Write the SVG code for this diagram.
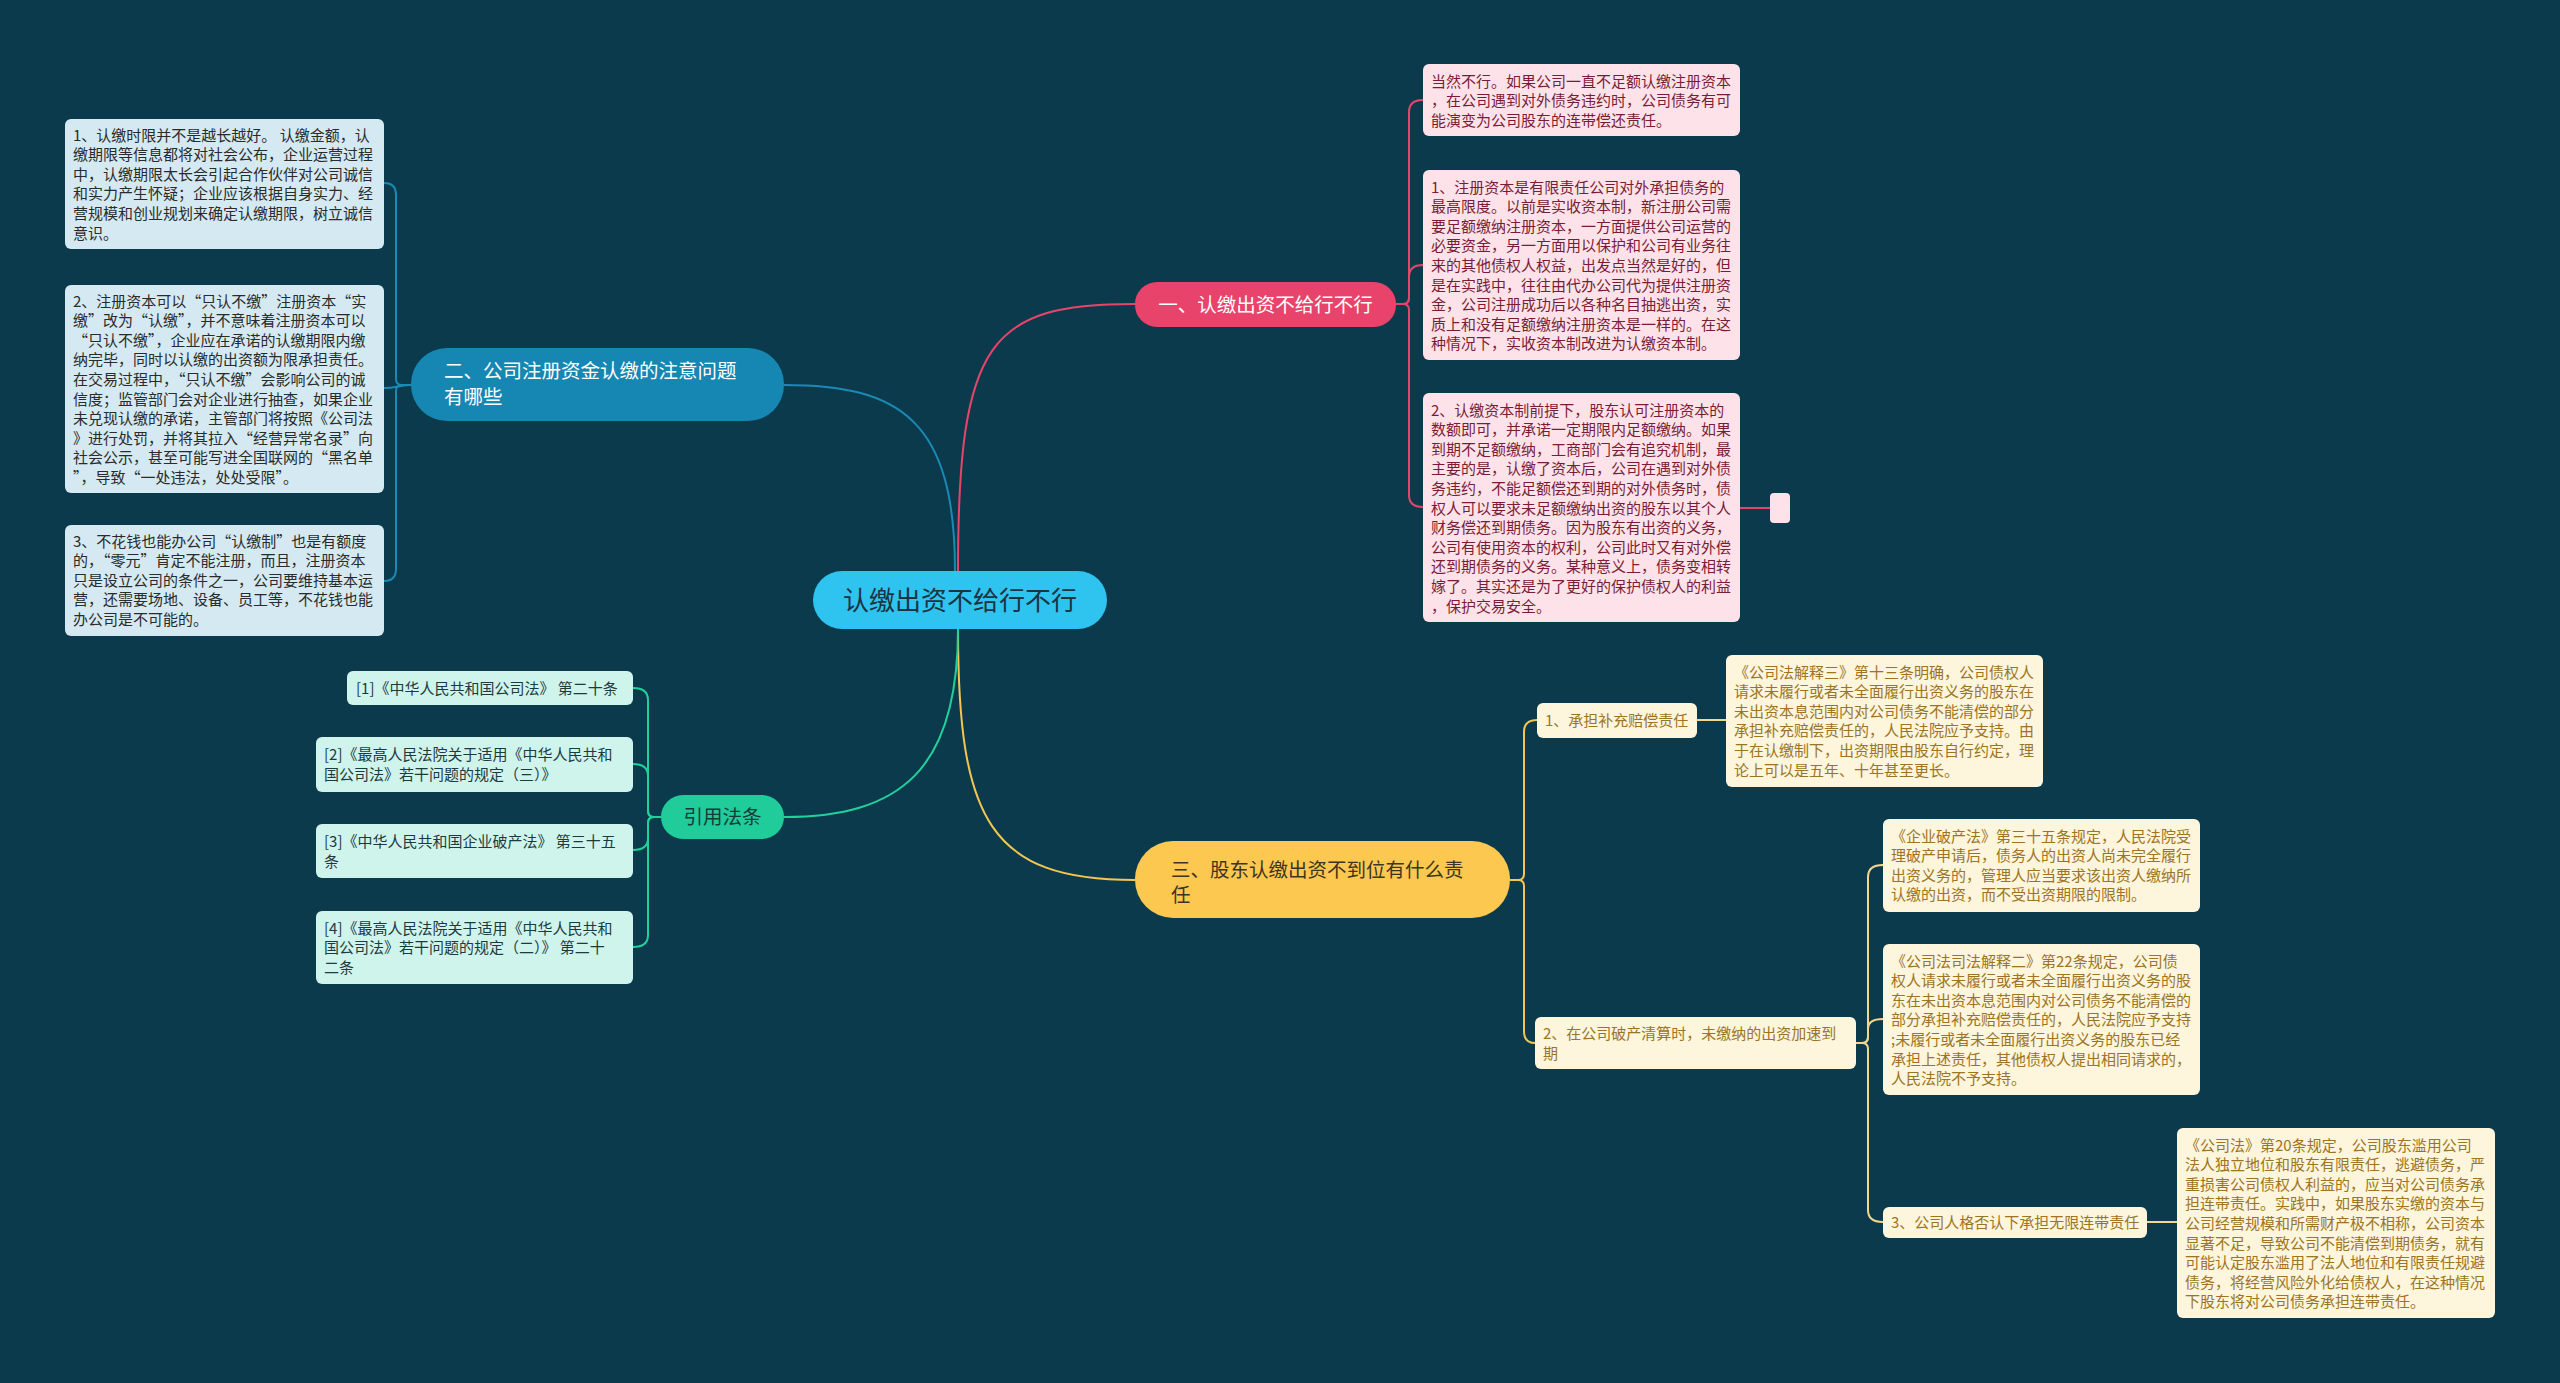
<svg xmlns="http://www.w3.org/2000/svg" width="2560" height="1383" viewBox="0 0 2560 1383">
<style>
text{font-family:"Noto Sans CJK SC","Noto Sans",sans-serif;}
.t15{font-size:15px;}
.lb{fill:#d4e9f1;}
.lbt{fill:#2b2b2b;}
.pk{fill:#fde3e9;}
.pkt{fill:#7a1c37;}
.yl{fill:#fdf5dc;}
.ylt{fill:#9c7423;}
.ct{fill:#cff4ec;}
.ctt{fill:#1d3a40;}
.c{fill:none;stroke-width:2;}
.cb{stroke:#1a8ab5;}
.cp{stroke:#e6456b;}
.cy{stroke:#f3c652;}
.cy2{stroke:#f1d78e;}
.cg{stroke:#22d09b;}
</style>
<rect width="2560" height="1383" fill="#0c3a4d"/>
<g id="connectors">
<path class="c cb" d="M955,571 C955,420 900,385 784,385"/>
<path class="c cp" d="M958,571 C958,340 990,304 1135,304"/>
<path class="c cy" d="M958,629 C958,820 990,880 1135,880"/>
<path class="c cg" d="M958,629 C958,770 900,817 784,817"/>
<path class="c cb" d="M411,385 H402 Q396,385 396,379 V195 Q396,183 384,183"/>
<path class="c cb" d="M411,385 C400,385 396,388 384,388"/>
<path class="c cb" d="M411,385 H402 Q396,385 396,391 V569 Q396,581 384,581"/>
<path class="c cp" d="M1396,304 H1403 Q1409,304 1409,298 V112 Q1409,100 1423,100"/>
<path class="c cp" d="M1396,304 H1403 Q1409,304 1409,298 V277 Q1409,265 1423,265"/>
<path class="c cp" d="M1396,304 H1403 Q1409,304 1409,310 V495 Q1409,507 1423,507"/>
<path class="c cp" d="M1740,508 H1770"/>
<path class="c cy" d="M1510,880 H1518 Q1524,880 1524,874 V732 Q1524,720 1537,720"/>
<path class="c cy" d="M1510,880 H1518 Q1524,880 1524,886 V1031 Q1524,1043 1535,1043"/>
<path class="c cy2" d="M1697,720 H1726"/>
<path class="c cy2" d="M1856,1043 H1862 Q1868,1043 1868,1037 V877 Q1868,865 1883,865"/>
<path class="c cy2" d="M1856,1043 H1862 Q1868,1043 1868,1037 V1029 Q1868,1019 1883,1019"/>
<path class="c cy2" d="M1856,1043 H1862 Q1868,1043 1868,1049 V1210 Q1868,1222 1883,1222"/>
<path class="c cy2" d="M2147,1222 H2177"/>
<path class="c cg" d="M661,817 H654 Q648,817 648,811 V700 Q648,688 633,688"/>
<path class="c cg" d="M661,817 H654 Q648,817 648,811 V776 Q648,764 633,764"/>
<path class="c cg" d="M661,817 H654 Q648,817 648,823 V838 Q648,850 633,850"/>
<path class="c cg" d="M661,817 H654 Q648,817 648,823 V935 Q648,947 633,947"/>
</g>
<g id="root">
<rect x="813" y="571" width="294" height="58" rx="29" fill="#2fc3ef"/>
<text x="960" y="609.5" font-size="26" text-anchor="middle" fill="#1b3442">认缴出资不给行不行</text>
</g>
<g id="b2">
<rect x="411" y="348" width="373" height="73" rx="36" fill="#1687b2"/>
<text x="444" y="378" font-size="19.5" fill="#ffffff"><tspan x="444">二、公司注册资金认缴的注意问题</tspan><tspan x="444" dy="26">有哪些</tspan></text>
</g>
<g id="b1">
<rect x="1135" y="282" width="261" height="45" rx="22" fill="#e8436a"/>
<text x="1265.5" y="311.5" font-size="19.5" text-anchor="middle" fill="#ffffff">一、认缴出资不给行不行</text>
</g>
<g id="b3">
<rect x="1135" y="841" width="375" height="77" rx="38" fill="#fcc84f"/>
<text x="1171" y="877" font-size="19.5" fill="#3d3520"><tspan x="1171">三、股东认缴出资不到位有什么责</tspan><tspan x="1171" dy="25">任</tspan></text>
</g>
<g id="b4">
<rect x="661" y="795" width="123" height="44" rx="22" fill="#20cc99"/>
<text x="722.5" y="824" font-size="19.5" text-anchor="middle" fill="#163a3a">引用法条</text>
</g>
<g id="l1">
<rect class="lb" x="65" y="119" width="319" height="130" rx="6"/>
<text class="t15 lbt" y="140.5"><tspan x="73">1、认缴时限并不是越长越好。 认缴金额，认</tspan><tspan x="73" dy="19.6">缴期限等信息都将对社会公布，企业运营过程</tspan><tspan x="73" dy="19.6">中，认缴期限太长会引起合作伙伴对公司诚信</tspan><tspan x="73" dy="19.6">和实力产生怀疑；企业应该根据自身实力、经</tspan><tspan x="73" dy="19.6">营规模和创业规划来确定认缴期限，树立诚信</tspan><tspan x="73" dy="19.6">意识。</tspan></text>
</g>
<g id="l2">
<rect class="lb" x="65" y="285" width="319" height="208" rx="6"/>
<text class="t15 lbt" y="306.5"><tspan x="73">2、注册资本可以“只认不缴”注册资本“实</tspan><tspan x="73" dy="19.6">缴”改为“认缴”，并不意味着注册资本可以</tspan><tspan x="73" dy="19.6">“只认不缴”，企业应在承诺的认缴期限内缴</tspan><tspan x="73" dy="19.6">纳完毕，同时以认缴的出资额为限承担责任。</tspan><tspan x="73" dy="19.6">在交易过程中，“只认不缴”会影响公司的诚</tspan><tspan x="73" dy="19.6">信度；监管部门会对企业进行抽查，如果企业</tspan><tspan x="73" dy="19.6">未兑现认缴的承诺，主管部门将按照《公司法</tspan><tspan x="73" dy="19.6">》进行处罚，并将其拉入“经营异常名录”向</tspan><tspan x="73" dy="19.6">社会公示，甚至可能写进全国联网的“黑名单</tspan><tspan x="73" dy="19.6">”，导致“一处违法，处处受限”。</tspan></text>
</g>
<g id="l3">
<rect class="lb" x="65" y="525" width="319" height="111" rx="6"/>
<text class="t15 lbt" y="546.5"><tspan x="73">3、不花钱也能办公司“认缴制”也是有额度</tspan><tspan x="73" dy="19.6">的，“零元”肯定不能注册，而且，注册资本</tspan><tspan x="73" dy="19.6">只是设立公司的条件之一，公司要维持基本运</tspan><tspan x="73" dy="19.6">营，还需要场地、设备、员工等，不花钱也能</tspan><tspan x="73" dy="19.6">办公司是不可能的。</tspan></text>
</g>
<g id="p0">
<rect class="pk" x="1423" y="64" width="317" height="72" rx="6"/>
<text class="t15 pkt" y="86.5"><tspan x="1431">当然不行。如果公司一直不足额认缴注册资本</tspan><tspan x="1431" dy="19.6">，在公司遇到对外债务违约时，公司债务有可</tspan><tspan x="1431" dy="19.6">能演变为公司股东的连带偿还责任。</tspan></text>
</g>
<g id="p1">
<rect class="pk" x="1423" y="170" width="317" height="190" rx="6"/>
<text class="t15 pkt" y="192.5"><tspan x="1431">1、注册资本是有限责任公司对外承担债务的</tspan><tspan x="1431" dy="19.6">最高限度。以前是实收资本制，新注册公司需</tspan><tspan x="1431" dy="19.6">要足额缴纳注册资本，一方面提供公司运营的</tspan><tspan x="1431" dy="19.6">必要资金，另一方面用以保护和公司有业务往</tspan><tspan x="1431" dy="19.6">来的其他债权人权益，出发点当然是好的，但</tspan><tspan x="1431" dy="19.6">是在实践中，往往由代办公司代为提供注册资</tspan><tspan x="1431" dy="19.6">金，公司注册成功后以各种名目抽逃出资，实</tspan><tspan x="1431" dy="19.6">质上和没有足额缴纳注册资本是一样的。在这</tspan><tspan x="1431" dy="19.6">种情况下，实收资本制改进为认缴资本制。</tspan></text>
</g>
<g id="p2">
<rect class="pk" x="1423" y="393" width="317" height="229" rx="6"/>
<text class="t15 pkt" y="415.5"><tspan x="1431">2、认缴资本制前提下，股东认可注册资本的</tspan><tspan x="1431" dy="19.6">数额即可，并承诺一定期限内足额缴纳。如果</tspan><tspan x="1431" dy="19.6">到期不足额缴纳，工商部门会有追究机制，最</tspan><tspan x="1431" dy="19.6">主要的是，认缴了资本后，公司在遇到对外债</tspan><tspan x="1431" dy="19.6">务违约，不能足额偿还到期的对外债务时，债</tspan><tspan x="1431" dy="19.6">权人可以要求未足额缴纳出资的股东以其个人</tspan><tspan x="1431" dy="19.6">财务偿还到期债务。因为股东有出资的义务，</tspan><tspan x="1431" dy="19.6">公司有使用资本的权利，公司此时又有对外偿</tspan><tspan x="1431" dy="19.6">还到期债务的义务。某种意义上，债务变相转</tspan><tspan x="1431" dy="19.6">嫁了。其实还是为了更好的保护债权人的利益</tspan><tspan x="1431" dy="19.6">，保护交易安全。</tspan></text>
</g>
<g id="p3">
<rect class="pk" x="1770" y="493" width="20" height="30" rx="4"/>
</g>
<g id="k1">
<rect class="yl" x="1537" y="703" width="160" height="35" rx="6"/>
<text class="t15 ylt" x="1545" y="726">1、承担补充赔偿责任</text>
</g>
<g id="y1">
<rect class="yl" x="1726" y="655" width="317" height="132" rx="6"/>
<text class="t15 ylt" y="677.5"><tspan x="1734">《公司法解释三》第十三条明确，公司债权人</tspan><tspan x="1734" dy="19.6">请求未履行或者未全面履行出资义务的股东在</tspan><tspan x="1734" dy="19.6">未出资本息范围内对公司债务不能清偿的部分</tspan><tspan x="1734" dy="19.6">承担补充赔偿责任的，人民法院应予支持。由</tspan><tspan x="1734" dy="19.6">于在认缴制下，出资期限由股东自行约定，理</tspan><tspan x="1734" dy="19.6">论上可以是五年、十年甚至更长。</tspan></text>
</g>
<g id="k2">
<rect class="yl" x="1535" y="1017" width="321" height="52" rx="6"/>
<text class="t15 ylt" y="1039"><tspan x="1543">2、在公司破产清算时，未缴纳的出资加速到</tspan><tspan x="1543" dy="19.6">期</tspan></text>
</g>
<g id="y2">
<rect class="yl" x="1883" y="819" width="317" height="93" rx="6"/>
<text class="t15 ylt" y="841.5"><tspan x="1891">《企业破产法》第三十五条规定，人民法院受</tspan><tspan x="1891" dy="19.6">理破产申请后，债务人的出资人尚未完全履行</tspan><tspan x="1891" dy="19.6">出资义务的，管理人应当要求该出资人缴纳所</tspan><tspan x="1891" dy="19.6">认缴的出资，而不受出资期限的限制。</tspan></text>
</g>
<g id="y3">
<rect class="yl" x="1883" y="944" width="317" height="151" rx="6"/>
<text class="t15 ylt" y="966.5"><tspan x="1891">《公司法司法解释二》第22条规定，公司债</tspan><tspan x="1891" dy="19.6">权人请求未履行或者未全面履行出资义务的股</tspan><tspan x="1891" dy="19.6">东在未出资本息范围内对公司债务不能清偿的</tspan><tspan x="1891" dy="19.6">部分承担补充赔偿责任的，人民法院应予支持</tspan><tspan x="1891" dy="19.6">;未履行或者未全面履行出资义务的股东已经</tspan><tspan x="1891" dy="19.6">承担上述责任，其他债权人提出相同请求的，</tspan><tspan x="1891" dy="19.6">人民法院不予支持。</tspan></text>
</g>
<g id="k3">
<rect class="yl" x="1883" y="1207" width="264" height="31" rx="6"/>
<text class="t15 ylt" x="1891" y="1228">3、公司人格否认下承担无限连带责任</text>
</g>
<g id="y4">
<rect class="yl" x="2177" y="1128" width="318" height="190" rx="6"/>
<text class="t15 ylt" y="1150.5"><tspan x="2185">《公司法》第20条规定，公司股东滥用公司</tspan><tspan x="2185" dy="19.6">法人独立地位和股东有限责任，逃避债务，严</tspan><tspan x="2185" dy="19.6">重损害公司债权人利益的，应当对公司债务承</tspan><tspan x="2185" dy="19.6">担连带责任。实践中，如果股东实缴的资本与</tspan><tspan x="2185" dy="19.6">公司经营规模和所需财产极不相称，公司资本</tspan><tspan x="2185" dy="19.6">显著不足，导致公司不能清偿到期债务，就有</tspan><tspan x="2185" dy="19.6">可能认定股东滥用了法人地位和有限责任规避</tspan><tspan x="2185" dy="19.6">债务，将经营风险外化给债权人，在这种情况</tspan><tspan x="2185" dy="19.6">下股东将对公司债务承担连带责任。</tspan></text>
</g>
<g id="c1">
<rect class="ct" x="347" y="671" width="286" height="34" rx="6"/>
<text class="t15 ctt" x="356" y="693.5">[1]《中华人民共和国公司法》 第二十条</text>
</g>
<g id="c2">
<rect class="ct" x="316" y="737" width="317" height="55" rx="6"/>
<text class="t15 ctt" y="760"><tspan x="324">[2]《最高人民法院关于适用《中华人民共和</tspan><tspan x="324" dy="19.6">国公司法》若干问题的规定（三）》</tspan></text>
</g>
<g id="c3">
<rect class="ct" x="316" y="824" width="317" height="54" rx="6"/>
<text class="t15 ctt" y="847"><tspan x="324">[3]《中华人民共和国企业破产法》 第三十五</tspan><tspan x="324" dy="19.6">条</tspan></text>
</g>
<g id="c4">
<rect class="ct" x="316" y="911" width="317" height="73" rx="6"/>
<text class="t15 ctt" y="933.5"><tspan x="324">[4]《最高人民法院关于适用《中华人民共和</tspan><tspan x="324" dy="19.6">国公司法》若干问题的规定（二）》 第二十</tspan><tspan x="324" dy="19.6">二条</tspan></text>
</g>
</svg>
